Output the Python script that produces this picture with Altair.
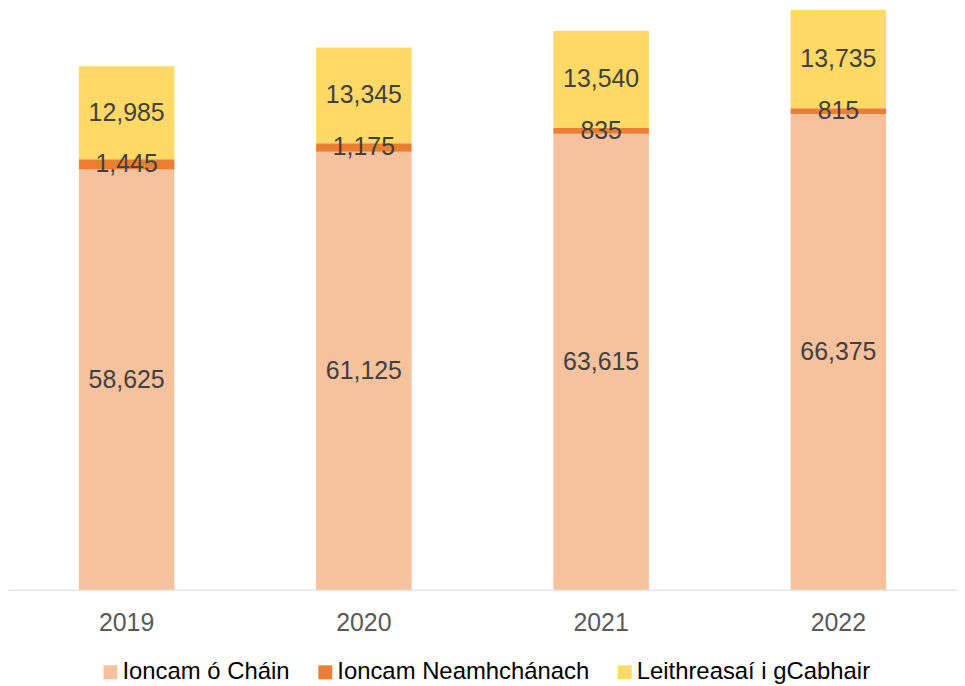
import altair as alt
import pandas as pd

years = ["2019", "2020", "2021", "2022"]
series = ["Ioncam ó Cháin", "Ioncam Neamhchánach", "Leithreasaí i gCabhair"]
tax = [58625, 61125, 63615, 66375]
nontax = [1445, 1175, 835, 815]
grant = [12985, 13345, 13540, 13735]
colors = ["#F6C19D", "#ED7D31", "#FFD966"]

rows = []
for i, y in enumerate(years):
    for k, (s, vals) in enumerate(zip(series, [tax, nontax, grant])):
        rows.append({"year": y, "series": s, "value": vals[i], "ord": k})
df = pd.DataFrame(rows)

FONT = "Liberation Sans"

base = alt.Chart(df).transform_stack(
    stack="value", groupby=["year"], as_=["y0", "y1"],
    sort=[alt.SortField("ord", order="ascending")]
).transform_calculate(mid="(datum.y0 + datum.y1) / 2")

xaxis = alt.Axis(labelAngle=0, labelFontSize=25, labelColor="#595959",
                 labelFont=FONT, ticks=False, domainColor="#D9D9D9",
                 domainWidth=1, labelPadding=21)
x = alt.X("year:N", title=None, sort=years,
          scale=alt.Scale(paddingInner=0, paddingOuter=0), axis=xaxis)
yscale = alt.Scale(domain=[0, 80925], nice=False)

bars = base.mark_bar(size=96).encode(
    x=x,
    y=alt.Y("y0:Q", scale=yscale, axis=None),
    y2="y1:Q",
    color=alt.Color("series:N", sort=series,
                    scale=alt.Scale(domain=series, range=colors),
                    legend=alt.Legend(orient="none", legendX=91, legendY=654,
                                      direction="horizontal", title=None,
                                      symbolType="square", symbolSize=196,
                                      labelFontSize=24, labelFont=FONT,
                                      labelColor="#000000", symbolStrokeWidth=0,
                                      labelLimit=500, columnPadding=23,
                                      labelOffset=0)),
)

labels = base.mark_text(fontSize=25, font=FONT, color="#404040").encode(
    x=x,
    y=alt.Y("mid:Q", scale=yscale, axis=None),
    text=alt.Text("value:Q", format=","),
)

chart = (bars + labels).properties(width=954, height=583, padding=0).configure_view(
    stroke=None
).configure_axis(grid=False)

chart.save("out.html", embed_options={"renderer": "svg", "actions": False})
